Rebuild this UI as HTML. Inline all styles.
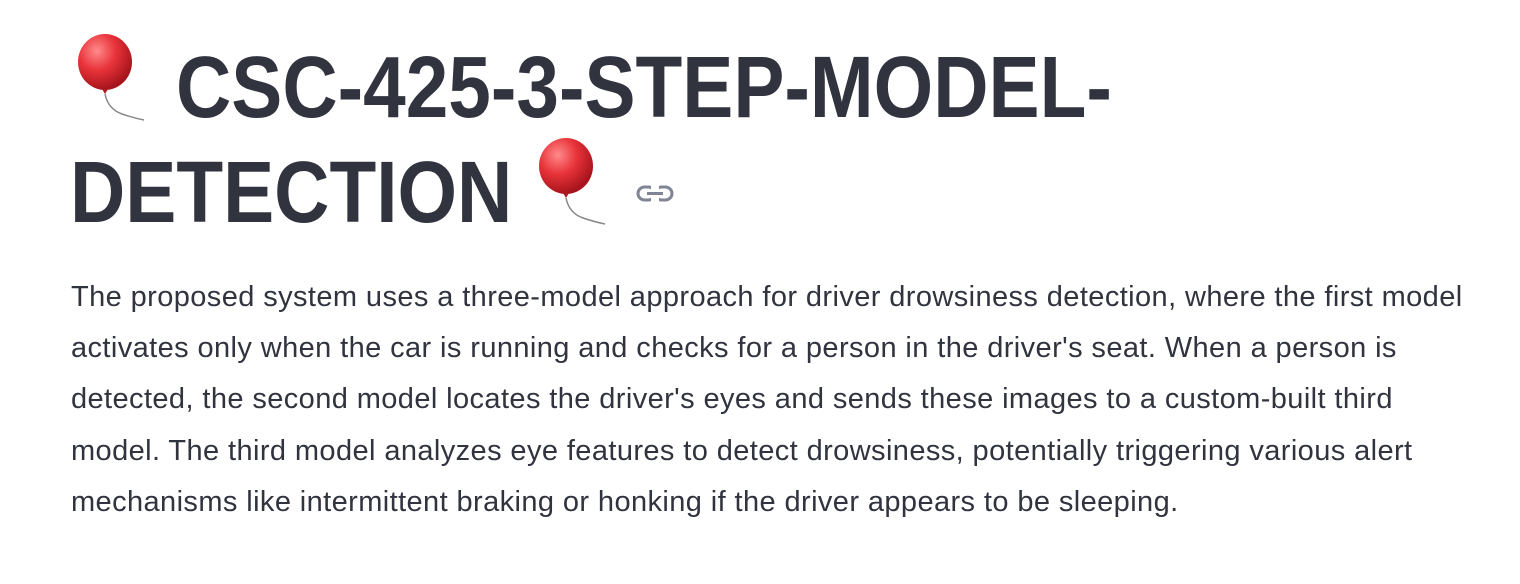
<!DOCTYPE html>
<html><head><meta charset="utf-8"><style>
html,body{margin:0;padding:0;background:#fff;width:1520px;height:584px;overflow:hidden}
body{position:relative;font-family:"Liberation Sans",sans-serif;color:#31333f}
.t{position:absolute;font-weight:bold;font-size:87px;letter-spacing:0;white-space:nowrap;line-height:1;transform:scaleX(0.88);transform-origin:0 0}
.p{position:absolute;left:71px;top:272px;font-size:29px;line-height:51.2px;white-space:nowrap;letter-spacing:0.4px}
.b{position:absolute}
</style></head><body>
<svg class="b" style="left:72px;top:34px" width="80" height="90" viewBox="0 0 80 90">
<defs><radialGradient id="g" cx="0.35" cy="0.3" r="0.7"><stop offset="0" stop-color="#ff8a8a"/><stop offset="0.5" stop-color="#e8333a"/><stop offset="1" stop-color="#a8141c"/></radialGradient></defs>
<ellipse cx="33" cy="28" rx="27" ry="28" fill="url(#g)"/><path d="M30 55 L36 55 L33 60Z" fill="#b01a20"/>
<path d="M33 60 Q36 75 50 80 Q62 84 72 86" stroke="#888" stroke-width="1.5" fill="none"/></svg>
<div class="t" style="left:176px;top:44px">CSC-425-3-STEP-MODEL-</div>
<div class="t" style="left:70px;top:149px">DETECTION</div>
<svg class="b" style="left:533px;top:138px" width="80" height="90" viewBox="0 0 80 90">
<ellipse cx="33" cy="28" rx="27" ry="28" fill="url(#g)"/><path d="M30 55 L36 55 L33 60Z" fill="#b01a20"/>
<path d="M33 60 Q36 75 50 80 Q62 84 72 86" stroke="#888" stroke-width="1.5" fill="none"/></svg>
<svg class="b" style="left:636px;top:183px" width="38" height="22" viewBox="0 0 38 22">
<rect x="2" y="4" width="17" height="13" rx="6.5" fill="none" stroke="#808495" stroke-width="3"/>
<rect x="19" y="4" width="17" height="13" rx="6.5" fill="none" stroke="#808495" stroke-width="3"/>
<rect x="15" y="2" width="8" height="17" fill="#fff"/><line x1="11" y1="10.5" x2="27" y2="10.5" stroke="#808495" stroke-width="3"/></svg>
<div class="p">The proposed system uses a three-model approach for driver drowsiness detection, where the first model<br>activates only when the car is running and checks for a person in the driver's seat. When a person is<br>detected, the second model locates the driver's eyes and sends these images to a custom-built third<br>model. The third model analyzes eye features to detect drowsiness, potentially triggering various alert<br>mechanisms like intermittent braking or honking if the driver appears to be sleeping.</div>
</body></html>
